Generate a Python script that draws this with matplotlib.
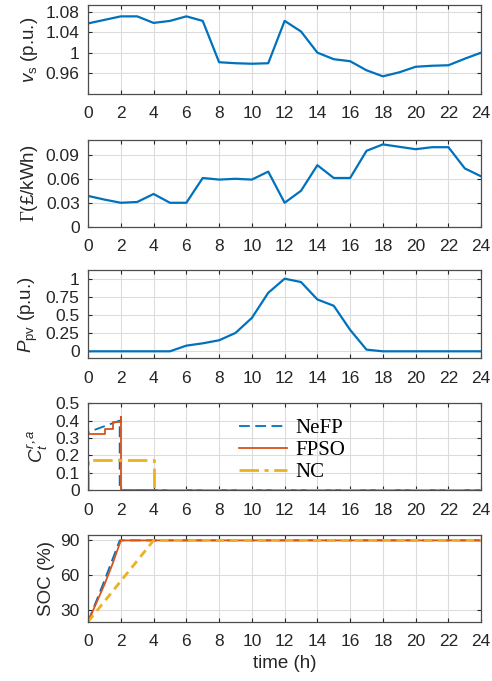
import matplotlib.pyplot as plt
import numpy as np
from matplotlib.ticker import FuncFormatter

plt.rcParams['font.family'] = ['Liberation Sans', 'DejaVu Sans']
plt.rcParams['mathtext.fontset'] = 'custom'
plt.rcParams['mathtext.it'] = 'Liberation Sans:italic'
plt.rcParams['mathtext.rm'] = 'Liberation Serif'
plt.rcParams['mathtext.sf'] = 'Liberation Sans'

# hourly profiles
hours = np.arange(0, 25)
v_s = [1.058, 1.065, 1.072, 1.072, 1.059, 1.063, 1.072, 1.063, 0.981, 0.979,
       0.978, 0.979, 1.063, 1.042, 1.000, 0.987, 0.983, 0.965, 0.953, 0.961,
       0.972, 0.974, 0.975, 0.988, 1.000]
price = [0.0386, 0.034, 0.030, 0.031, 0.041, 0.030, 0.030, 0.061, 0.059, 0.060,
         0.059, 0.069, 0.030, 0.045, 0.077, 0.061, 0.061, 0.095, 0.103, 0.100,
         0.097, 0.0995, 0.0995, 0.073, 0.063]
p_pv = [0, 0, 0, 0, 0, 0, 0.078, 0.11, 0.152, 0.253, 0.46, 0.806, 1.0, 0.954,
        0.714, 0.627, 0.295, 0.023, 0, 0, 0, 0, 0, 0, 0]

# charging rate C_t^{r,a}
t_nefp = [0, 0, 1.93, 1.93, 24]
c_nefp = [0, 0.333, 0.40, 0, 0]
t_fpso = [0, 0, 1.05, 1.05, 1.5, 1.5, 2, 2, 2, 24]
c_fpso = [0, 0.322, 0.322, 0.354, 0.354, 0.393, 0.393, 0.42, 0, 0]
t_nc = [0, 0, 4, 4, 24]
c_nc = [0, 0.175, 0.175, 0, 0]

# state of charge
ts_nefp = [0, 1, 1.93, 24]
soc_nefp = [20, 55.5, 90, 90]
ts_fpso = [0, 1, 1.5, 2, 24]
soc_fpso = [20, 52, 70, 90, 90]
ts_nc = [0, 4, 24]
soc_nc = [20, 90, 90]

blue = '#0072BD'
red = '#D95319'
yellow = '#EDB120'
dark = '#262626'

fig = plt.figure(figsize=(4.92, 6.81), dpi=100)
left, width = 0.179, 0.799
bottoms = [0.862, 0.667, 0.474, 0.280, 0.087]
heights = [0.131, 0.128, 0.129, 0.128, 0.128]
axes = [fig.add_axes([left, b, width, h]) for b, h in zip(bottoms, heights)]

fmt = FuncFormatter(lambda v, p: f'{v:g}')
for ax in axes:
    ax.set_xlim(0, 24)
    ax.set_xticks(np.arange(0, 25, 2))
    ax.grid(True, color='#dcdcdc', linewidth=0.8)
    ax.set_axisbelow(True)
    ax.tick_params(direction='in', top=True, right=True, labelsize=12.5,
                   colors=dark, length=3, width=0.8)
    ax.tick_params(axis='x', pad=9)
    ax.tick_params(axis='y', pad=6)
    ax.yaxis.set_major_formatter(fmt)
    for s in ax.spines.values():
        s.set_color('#4d4d4d')
        s.set_linewidth(0.9)

lab = dict(fontsize=13.5, color=dark)

ax = axes[0]
ax.plot(hours, v_s, color=blue, lw=1.6)
ax.set_ylim(0.918, 1.095)
ax.set_yticks([0.96, 1.0, 1.04, 1.08])
ax.set_ylabel(r'$v_{\mathsf{s}}$ (p.u.)', **lab)

ax = axes[1]
ax.plot(hours, price, color=blue, lw=1.6)
ax.set_ylim(0, 0.109)
ax.set_yticks([0, 0.03, 0.06, 0.09])
ax.set_ylabel(r'$\Gamma$(£/kWh)', **lab)

ax = axes[2]
ax.plot(hours, p_pv, color=blue, lw=1.6)
ax.set_ylim(-0.095, 1.115)
ax.set_yticks([0, 0.25, 0.5, 0.75, 1])
ax.set_ylabel(r'$P_{\mathsf{pv}}$ (p.u.)', **lab)

ax = axes[3]
ax.plot(t_nefp, c_nefp, color=blue, lw=1.3, ls=(0, (6, 3)), label='NeFP')
ax.plot(t_fpso, c_fpso, color=red, lw=1.3, label='FPSO')
ax.plot(t_nc, c_nc, color=yellow, lw=2.0, ls=(0, (7, 2, 1.5, 2)), label='NC')
ax.set_ylim(0, 0.5)
ax.set_yticks(np.arange(0, 0.51, 0.1))
ax.set_ylabel(r'$C_t^{r,a}$', **lab)
ax.legend(loc='center', bbox_to_anchor=(0.52, 0.46), frameon=False,
          prop={'family': 'Liberation Serif', 'size': 15}, handlelength=2.3,
          labelspacing=0.12, handletextpad=0.4, borderaxespad=0)

ax = axes[4]
ax.plot(ts_nefp, soc_nefp, color=blue, lw=1.3, ls=(0, (6, 3)))
ax.plot(ts_fpso, soc_fpso, color=red, lw=1.3)
ax.plot(ts_nc, soc_nc, color=yellow, lw=2.0, ls=(0, (3, 2)))
ax.set_ylim(20, 95)
ax.set_yticks([30, 60, 90])
ax.set_ylabel('SOC (%)', **lab)
ax.set_xlabel('time (h)', **lab)

fig.savefig('out.png', dpi=100)
